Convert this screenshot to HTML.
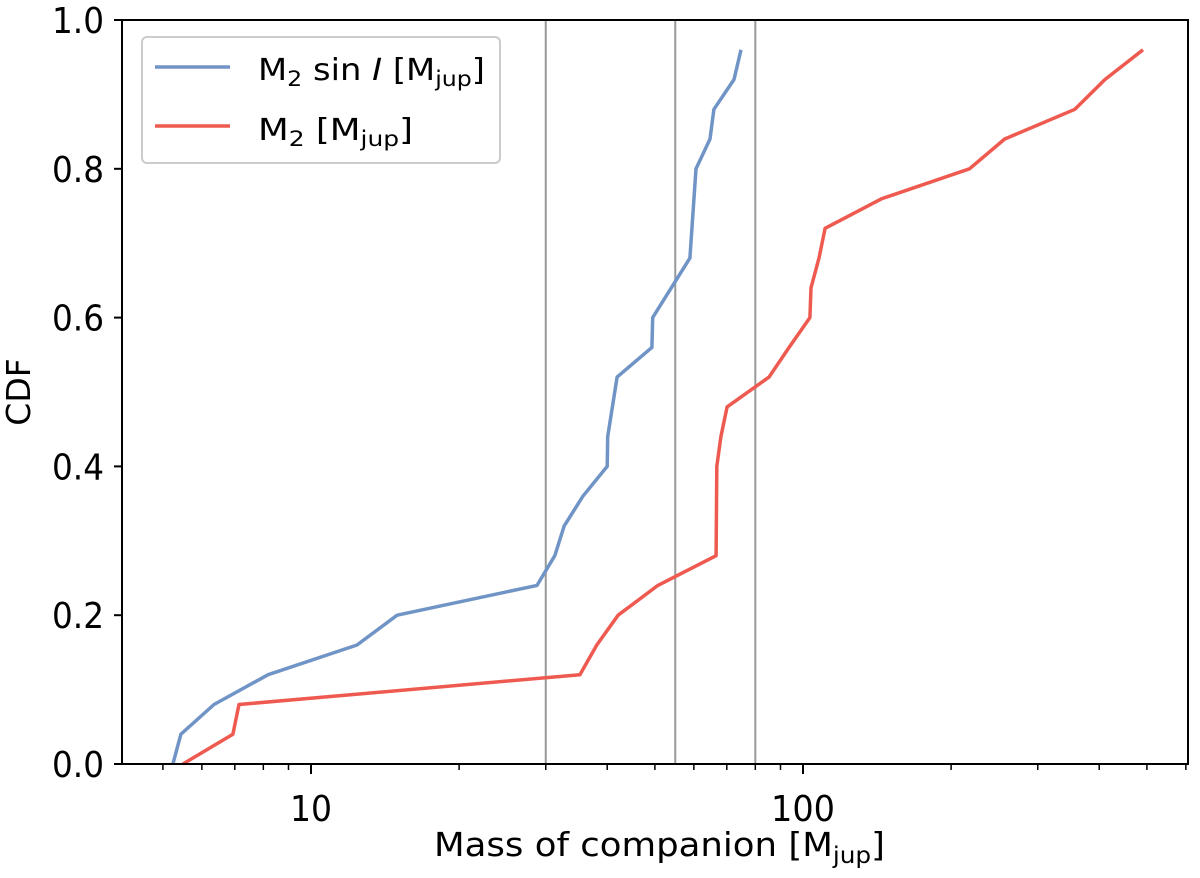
<!DOCTYPE html>
<html><head><meta charset="utf-8"><style>
body{margin:0;background:#fff}
svg text{font-family:"DejaVu Sans","Liberation Sans",sans-serif;fill:#000}
</style></head><body>
<svg id="chart" width="1200" height="873"></svg>
<script>
const blueMass=[5.24,5.44,6.35,8.18,12.4,14.96,28.8,31.3,32.7,35.7,40,40.1,41.9,49.3,49.5,58.9,60.6,64.7,65.9,72.4,74.8];
const blueCdf=[0,0.04,0.08,0.12,0.16,0.2,0.24,0.28,0.32,0.36,0.40,0.44,0.52,0.56,0.60,0.68,0.80,0.84,0.88,0.92,0.96];
const redMass=[5.49,6.94,7.14,35.2,38.1,42.1,50.7,66.6,66.8,68.1,70.1,85.3,93.7,103.3,103.8,107.8,110.9,144.7,218,257,357,411,491];
const redCdf=[0,0.04,0.08,0.12,0.16,0.20,0.24,0.28,0.40,0.44,0.48,0.52,0.56,0.60,0.64,0.68,0.72,0.76,0.80,0.84,0.88,0.92,0.96];
const vlines=[30,55,80];
const yTicks=[0,0.2,0.4,0.6,0.8,1.0];
const yTickLabels=["0.0","0.2","0.4","0.6","0.8","1.0"];
const xMajor=[10,100];
const xMajorLabels=["10","100"];
const xMinor=[5,6,7,8,9,20,30,40,50,60,70,80,90,200,300,400,500,600];

const L=122,R=1188,T=20,B=764;
const x=m=>311+492*Math.log10(m/10);
const y=v=>B-(B-T)*v;
const NS="http://www.w3.org/2000/svg";
const svg=document.getElementById('chart');
function mk(tag,attrs,parent){const e=document.createElementNS(NS,tag);for(const k in attrs)e.setAttribute(k,attrs[k]);(parent||svg).appendChild(e);return e;}

for(const v of vlines){
 const l=mk('line',{x1:x(v),x2:x(v),y1:T,y2:B,stroke:'#999','stroke-width':2});
 
 
}
function series(ms,cs,color,name){
 const d=ms.map((m,i)=>(i?'L':'M')+x(m).toFixed(1)+','+y(cs[i]).toFixed(1)).join('');
 const p=mk('path',{d:d,fill:'none',stroke:color,'stroke-width':3.5,'stroke-linejoin':'round'});
 
 
}
series(blueMass,blueCdf,'#7094c6','series-m2-sini');
series(redMass,redCdf,'#ee5a50','series-m2');

const frame=mk('rect',{x:L,y:T,width:R-L,height:B-T,fill:'none',stroke:'#000','stroke-width':2});



yTicks.forEach((v,i)=>{
 mk('line',{x1:L-8,x2:L,y1:y(v),y2:y(v),stroke:'#000','stroke-width':2});
 const t=mk('text',{x:104,y:y(v)+13,'text-anchor':'end','font-size':36,textLength:52,lengthAdjust:'spacingAndGlyphs'});
 t.textContent=yTickLabels[i];
 
 
});
xMajor.forEach((v,i)=>{
 mk('line',{x1:x(v),x2:x(v),y1:B,y2:B+10,stroke:'#000','stroke-width':2});
 const t=mk('text',{x:x(v),y:821,'text-anchor':'middle','font-size':36,textLength:i?64:42,lengthAdjust:'spacingAndGlyphs'});
 t.textContent=xMajorLabels[i];
 
 
});
xMinor.forEach(v=>{mk('line',{x1:x(v),x2:x(v),y1:B,y2:B+6,stroke:'#000','stroke-width':1.5});});

const xt=mk('text',{x:434,y:856,'font-size':33,textLength:451,lengthAdjust:'spacingAndGlyphs'});
xt.innerHTML='Mass of companion [M<tspan font-size="23" dy="7">jup</tspan><tspan dy="-7">]</tspan>';


const yt=mk('text',{x:30,y:392,'text-anchor':'middle','font-size':33,transform:'rotate(-90 30 392)'});
yt.textContent='CDF';



const lg=mk('g',{});


mk('rect',{x:142,y:37,width:358,height:126,rx:5,fill:'#fff',stroke:'#ccc','stroke-width':2},lg);
mk('line',{x1:155,x2:230,y1:67,y2:67,stroke:'#7094c6','stroke-width':3.5},lg);
mk('line',{x1:155,x2:230,y1:126,y2:126,stroke:'#ee5a50','stroke-width':3.5},lg);
const t1=mk('text',{x:258,y:80,'font-size':30,textLength:227,lengthAdjust:'spacingAndGlyphs'},lg);
t1.innerHTML='M<tspan font-size="21" dy="6">2</tspan><tspan dy="-6"> sin </tspan><tspan font-style="italic">I</tspan> [M<tspan font-size="21" dy="6">jup</tspan><tspan dy="-6">]</tspan>';


const t2=mk('text',{x:258,y:140,'font-size':30,textLength:155,lengthAdjust:'spacingAndGlyphs'},lg);
t2.innerHTML='M<tspan font-size="21" dy="6">2</tspan><tspan dy="-6"> [M</tspan><tspan font-size="21" dy="6">jup</tspan><tspan dy="-6">]</tspan>';


</script>
</body></html>
